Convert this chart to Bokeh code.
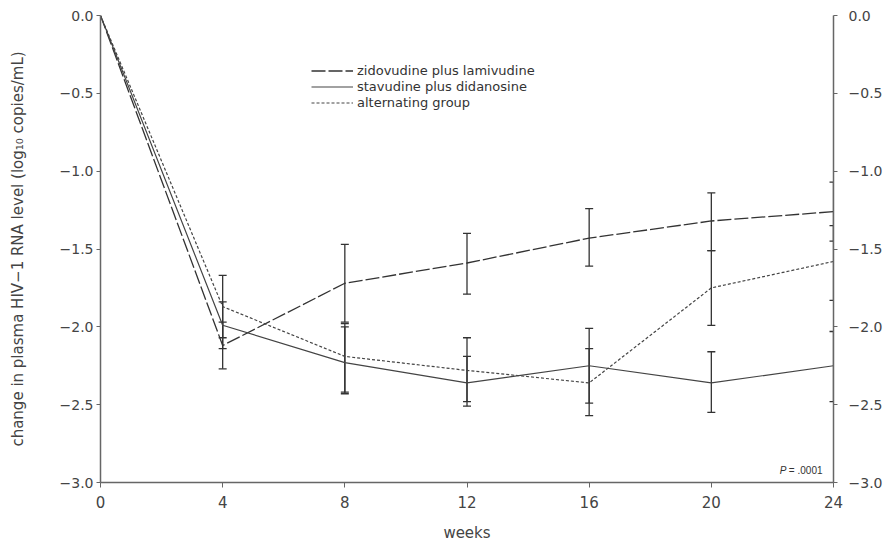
from bokeh.plotting import figure
from bokeh.models import (ColumnDataSource, Whisker, TeeHead, LinearAxis, FixedTicker,
                          CustomJSTickFormatter, Legend, LegendItem, Label)
from bokeh.embed import file_html
from bokeh.resources import INLINE

# ---- data ----
weeks = [0, 4, 8, 12, 16, 20, 24]
zid = [0.0, -2.12, -1.72, -1.59, -1.43, -1.32, -1.26]
stav = [0.0, -1.99, -2.23, -2.36, -2.25, -2.36, -2.25]
alt = [0.0, -1.87, -2.19, -2.28, -2.36, -1.75, -1.58]

err_weeks = [4, 8, 12, 16, 20, 24]
zid_upper = [-1.97, -1.47, -1.40, -1.24, -1.14, -1.07]
zid_lower = [-2.27, -1.97, -1.79, -1.61, -1.51, -1.45]
stav_upper = [-1.84, -1.98, -2.07, -2.01, -2.16, -2.03]
stav_lower = [-2.14, -2.43, -2.51, -2.49, -2.55, -2.48]
alt_upper = [-1.67, -2.00, -2.19, -2.14, -1.51, -1.35]
alt_lower = [-2.07, -2.42, -2.48, -2.57, -1.99, -1.83]

names = ["zidovudine plus lamivudine", "stavudine plus didanosine", "alternating group"]
xticks = [0, 4, 8, 12, 16, 20, 24]
yticks = [0.0, -0.5, -1.0, -1.5, -2.0, -2.5, -3.0]

FONT = "DejaVu Sans"
INK = "#333333"
AXC = "#666666"

p = figure(width=888, height=544, x_range=(0, 24), y_range=(-3, 0),
           output_backend="svg", toolbar_location=None,
           min_border_left=100, min_border_right=55, min_border_top=15, min_border_bottom=61)
p.outline_line_color = None
p.grid.grid_line_color = None
p.background_fill_color = "white"

fmt = CustomJSTickFormatter(code="""
    if (Math.abs(tick) < 1e-9) return '0.0';
    return '\\u2212' + Math.abs(tick).toFixed(1);
""")

right_axis = LinearAxis()
p.add_layout(right_axis, "right")

for ax in p.yaxis:
    ax.ticker = FixedTicker(ticks=yticks)
    ax.formatter = fmt
    ax.major_label_text_font = FONT
    ax.major_label_text_font_size = "14px"
    ax.major_label_text_color = "#444444"
    ax.axis_line_color = AXC
    ax.axis_line_width = 1.5
    ax.major_tick_line_color = AXC
    ax.major_tick_out = 4
    ax.major_tick_in = 0
    ax.minor_tick_line_color = None

p.yaxis[0].major_label_standoff = 3
right_axis.major_label_standoff = 11

p.yaxis[0].axis_label = "change in plasma HIV\u22121 RNA level (log\u2081\u2080 copies/mL)"
p.yaxis[0].axis_label_text_font = FONT
p.yaxis[0].axis_label_text_font_size = "15px"
p.yaxis[0].axis_label_text_font_style = "normal"
p.yaxis[0].axis_label_text_color = "#444444"
p.yaxis[0].axis_label_standoff = 30

xa = p.xaxis[0]
xa.ticker = FixedTicker(ticks=xticks)
xa.major_label_text_font = FONT
xa.major_label_text_font_size = "15px"
xa.major_label_text_color = "#444444"
xa.axis_line_color = AXC
xa.axis_line_width = 1.5
xa.major_tick_line_color = AXC
xa.major_tick_out = 5
xa.major_tick_in = 0
xa.minor_tick_line_color = None
xa.major_label_standoff = 8
xa.axis_label = "weeks"
xa.axis_label_text_font = FONT
xa.axis_label_text_font_size = "15px"
xa.axis_label_text_font_style = "normal"
xa.axis_label_text_color = "#444444"
xa.axis_label_standoff = 13

# ---- error bars ----
for up, lo in [(zid_upper, zid_lower), (stav_upper, stav_lower), (alt_upper, alt_lower)]:
    src = ColumnDataSource(dict(x=err_weeks, upper=up, lower=lo))
    w = Whisker(source=src, base="x", upper="upper", lower="lower",
                line_color=INK, line_width=1.3,
                upper_head=TeeHead(size=8, line_color=INK, line_width=1.3),
                lower_head=TeeHead(size=8, line_color=INK, line_width=1.3))
    p.add_layout(w)

# ---- lines ----
r1 = p.line(weeks, zid, line_color=INK, line_width=1.3, line_dash="14 3")
r2 = p.line(weeks, stav, line_color="#444444", line_width=1.2)
r3 = p.line(weeks, alt, line_color="#444444", line_width=1.2, line_dash="3 2")

legend = Legend(items=[LegendItem(label=names[0], renderers=[r1]),
                       LegendItem(label=names[1], renderers=[r2]),
                       LegendItem(label=names[2], renderers=[r3])],
                location=(211, 372), orientation="vertical",
                border_line_color=None, background_fill_alpha=0,
                label_text_font=FONT, label_text_font_size="13px",
                label_text_color=INK, glyph_width=42, glyph_height=15,
                label_height=15, label_standoff=4, spacing=1, padding=0, margin=0)
p.add_layout(legend)

p.add_layout(Label(x=24, y=-3, x_offset=-11, y_offset=7, text="= .0001",
                   text_font="Liberation Sans", text_font_size="10px",
                   text_color=INK, text_align="right", text_baseline="bottom"))
p.add_layout(Label(x=24, y=-3, x_offset=-47, y_offset=7, text="P",
                   text_font="Liberation Sans", text_font_size="10px",
                   text_font_style="italic",
                   text_color=INK, text_align="right", text_baseline="bottom"))

open("out.html", "w").write(file_html(p, INLINE))
